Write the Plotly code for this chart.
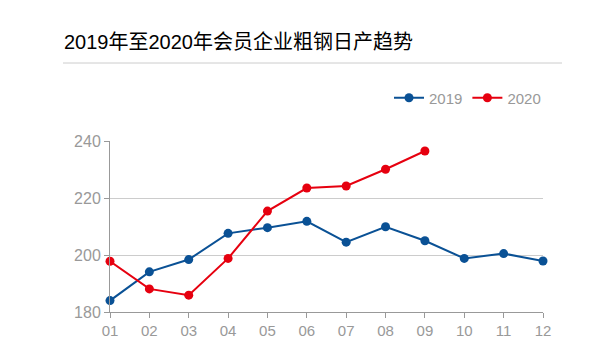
import plotly.graph_objects as go

months = ["01", "02", "03", "04", "05", "06", "07", "08", "09", "10", "11", "12"]
values_2019 = [184.0, 194.1, 198.4, 207.6, 209.6, 211.8, 204.5, 209.9, 205.0, 198.8, 200.5, 197.9]
values_2020 = [197.8, 188.1, 185.9, 198.8, 215.4, 223.5, 224.2, 230.1, 236.5]
y_ticks = [180, 200, 220, 240]
title_text = "2019年至2020年会员企业粗钢日产趋势"

# page offset (body margin) compensation
OFF = 8
W, H = 594 - OFF, 356 - OFF
L, R, T, B = 110 - OFF, 543 - OFF, 141 - OFF, 312 - OFF
pw, ph = R - L, B - T

def px(x):
    return (x - OFF - L) / pw

def py(y):
    return (B - (y - OFF)) / ph

FONT = "Liberation Sans, Arial, Noto Sans CJK SC, sans-serif"
BLUE = "#0a5195"
RED = "#e6000f"

fig = go.Figure()
fig.add_trace(go.Scatter(
    x=months, y=values_2019, name="2019", mode="lines+markers",
    line=dict(color=BLUE, width=2), marker=dict(color=BLUE, size=9),
    cliponaxis=False,
))
fig.add_trace(go.Scatter(
    x=months[:len(values_2020)], y=values_2020, name="2020", mode="lines+markers",
    line=dict(color=RED, width=2), marker=dict(color=RED, size=9),
    cliponaxis=False,
))

fig.update_layout(
    width=W, height=H,
    margin=dict(l=L, r=W - R, t=T, b=H - B, pad=0),
    paper_bgcolor="white", plot_bgcolor="white",
    font=dict(family=FONT, color="#999999", size=15),
    showlegend=True,
    legend=dict(
        orientation="h", x=px(546), xanchor="right", y=py(98), yanchor="middle",
        font=dict(size=15, color="#999999", family=FONT),
        itemwidth=30, tracegroupgap=0, bgcolor="rgba(0,0,0,0)",
    ),
    xaxis=dict(
        type="category", range=[0, len(months) - 1],
        showgrid=False, zeroline=False,
        showline=True, linecolor="#999999", linewidth=1,
        ticks="outside", ticklen=5, tickcolor="#999999",
        tickfont=dict(size=15, color="#999999"),
    ),
    yaxis=dict(
        range=[180, 240], tickvals=y_ticks,
        showgrid=True, gridcolor="#cccccc", gridwidth=1, zeroline=False,
        showline=True, linecolor="#999999", linewidth=1,
        ticks="outside", ticklen=5, tickcolor="#999999",
        tickfont=dict(size=16, color="#999999"),
    ),
    annotations=[dict(
        text=title_text, xref="paper", yref="paper",
        x=px(62), y=py(42), xanchor="left", yanchor="middle",
        showarrow=False, font=dict(size=20, color="#000000", family=FONT),
    )],
    shapes=[dict(
        type="line", xref="paper", yref="paper",
        x0=px(63), x1=px(562), y0=py(63), y1=py(63),
        line=dict(color="#cccccc", width=1),
    )],
)

fig.write_html("out.html")
